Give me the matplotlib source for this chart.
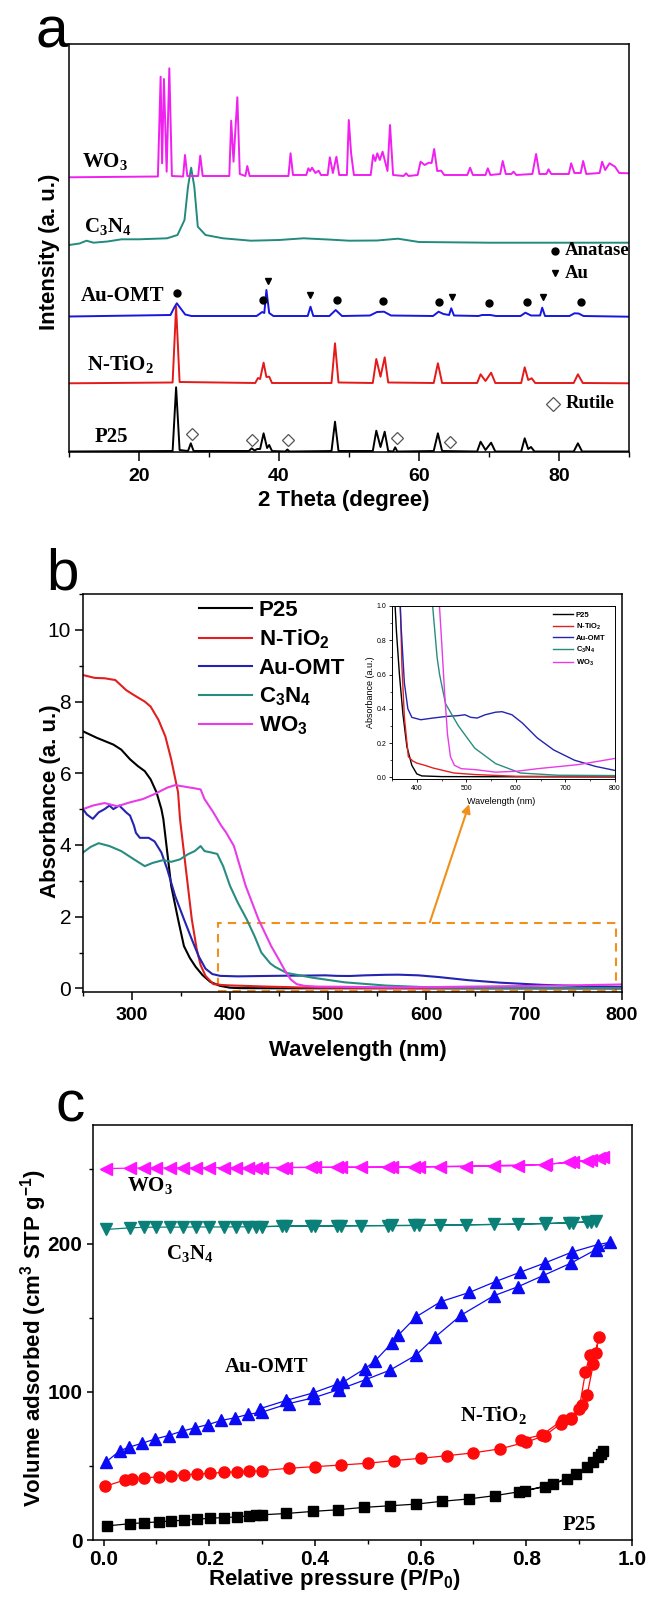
import matplotlib
matplotlib.use("Agg")
import matplotlib.pyplot as plt
from matplotlib.patches import Rectangle
from matplotlib.ticker import MultipleLocator

plt.rcParams['font.family'] = ['Liberation Sans', 'DejaVu Sans']
plt.rcParams['font.weight'] = 'bold'
plt.rcParams['axes.labelweight'] = 'bold'
plt.rcParams['axes.linewidth'] = 1.1

SERIF = 'Liberation Serif'

# ---------------- (a) XRD: (2 theta, stacked intensity) ----------------
p25_xrd = [(10, 1.5), (24.8, 2), (25.3, 65.7), (25.8, 3), (27.0, 2), (27.4, 9.7), (27.8, 2),
           (35.7, 2), (36.1, 4.7), (36.5, 2.5), (36.9, 4), (37.3, 4), (37.8, 19.7), (38.3, 5),
           (38.6, 8), (39.0, 2), (40.9, 1.5), (41.2, 3.5), (41.5, 1.5), (47.5, 2), (48.0, 31.3),
           (48.5, 2), (53.4, 2), (53.9, 22.3), (54.5, 6), (55.1, 21.3), (55.6, 2), (56.3, 1.5),
           (56.6, 5.7), (56.9, 1.5), (62.1, 2), (62.7, 19.7), (63.3, 2), (68.3, 1.5), (68.8, 11.3),
           (69.5, 3), (70.3, 10.3), (70.9, 1.5), (74.6, 1.5), (75.1, 14.7), (75.6, 4), (76.0, 6),
           (76.5, 1.5), (82.1, 1.5), (82.7, 9.7), (83.3, 1.5), (90, 1.5)]
ntio2_xrd = [(10, 69.7), (24.8, 70.5), (25.3, 146.3), (25.8, 71), (36.6, 70), (37.0, 75), (37.3, 74),
             (37.8, 90.3), (38.2, 76), (38.6, 76.3), (39.0, 70), (47.5, 70), (48.0, 109.7), (48.5, 70.5),
             (53.4, 70), (53.9, 94), (54.5, 76.3), (55.1, 95.7), (55.6, 70.5), (62.1, 70), (62.7, 89.7),
             (63.3, 70), (68.3, 70), (68.8, 78.7), (69.5, 72), (70.3, 80.3), (70.9, 70), (74.6, 70),
             (75.1, 85.7), (75.6, 73), (76.1, 74.7), (76.6, 70), (82.1, 70), (82.7, 78.7), (83.4, 70),
             (90, 69.7)]
auomt_xrd = [(10, 136.5), (24.5, 138), (25.0, 145), (25.4, 149.7), (25.9, 145), (26.6, 138.5), (27.5, 137),
             (36.8, 137), (37.6, 141), (37.9, 140), (38.2, 163), (38.6, 140), (39.2, 137), (44.1, 137),
             (44.5, 146.3), (44.9, 137), (47.2, 137), (48.1, 143), (49.0, 137), (53.0, 137.5), (54.0, 141),
             (55.0, 141.3), (56.0, 137.5), (62.0, 137), (62.8, 141.3), (63.5, 139), (64.3, 138), (64.6, 144.7),
             (65.0, 137.5), (68.5, 137), (69.0, 138), (70.2, 138), (71, 137), (74.5, 137), (75.2, 140.3),
             (76, 137.5), (77.3, 137.5), (77.6, 145.3), (78.0, 137), (81.5, 137), (82.2, 139.7), (82.8, 139.5),
             (83.5, 137), (90, 136.3)]
c3n4_xrd = [(10, 208), (11.5, 209.5), (12.5, 212.3), (13.5, 210.3), (15.5, 211.5), (17.5, 213.7), (20, 213.7),
            (24, 214.7), (25.5, 218), (26.5, 233), (27.0, 266.3), (27.45, 285.3), (27.9, 266.3), (28.4, 226.3),
            (29.5, 218), (32, 214.7), (36, 212.3), (40, 213), (43.5, 214.7), (47, 213.5), (50, 212.3),
            (54, 212.5), (57, 214.3), (60, 211), (70, 210.3), (90, 210.3)]
wo3_xrd = [(10, 275.7), (22.7, 276.5), (23.09, 376.3), (23.3, 289.7), (23.56, 374.0), (23.95, 281.3),
           (24.33, 384.7), (24.7, 277), (26.3, 276.5), (26.57, 298), (26.9, 277), (28.45, 277), (28.75, 297.3),
           (29.1, 277), (32.9, 277), (33.17, 332.3), (33.5, 291.3), (34.05, 355.7), (34.4, 279), (35.2, 277),
           (35.47, 287), (35.8, 277), (41.35, 277), (41.65, 299.7), (42.0, 278), (43.9, 278), (44.19, 284.7),
           (44.45, 282), (44.72, 285.3), (45.2, 280), (45.66, 282.3), (46.0, 278), (46.95, 278), (47.26, 295.7),
           (47.7, 280), (48.2, 296.3), (48.6, 278), (49.7, 278), (49.97, 333), (50.3, 299.7), (50.7, 278),
           (53.1, 278), (53.45, 298), (53.75, 292), (54.04, 299.7), (54.4, 293), (54.8, 301.3), (55.5, 282),
           (55.86, 328), (56.3, 278), (57.8, 277), (58.16, 279.7), (58.5, 277), (59.8, 278), (60.22, 291.3),
           (60.8, 288), (61.4, 290.3), (61.8, 290), (62.17, 304), (62.6, 282), (63.17, 282.3), (63.6, 278),
           (66.9, 278), (67.3, 285.3), (67.7, 278), (69.5, 278), (69.83, 284.7), (70.2, 278), (71.6, 279),
           (71.96, 292), (72.4, 279), (73.2, 279), (73.5, 281.3), (73.9, 278), (76.2, 279), (76.73, 299),
           (77.2, 279), (78.2, 279), (78.5, 283.7), (78.9, 279), (81.4, 279), (81.74, 289.7), (82.2, 280),
           (83.1, 280), (83.45, 292), (83.9, 279), (85.8, 280), (86.16, 291.3), (86.6, 283), (87.22, 289.7),
           (88.0, 286.3), (88.6, 280), (90, 279.7)]

anatase_tt = [25.45, 37.65, 48.32, 54.9, 62.9, 69.96, 75.37, 83.1]
anatase_i = [159.7, 153, 153, 152.3, 151.3, 150.3, 151, 151]
au_tt = [38.4, 44.49, 64.77, 77.73]
au_i = [172, 158, 156.3, 155.7]
rutile_tt = [27.6, 36.1, 41.3, 56.9, 64.4]
rutile_i = [19, 13, 13, 15.3, 10.7]

xrd_names = ['P25', 'N-TiO$_\\mathregular{2}$', 'Au-OMT', 'C$_\\mathregular{3}$N$_\\mathregular{4}$', 'WO$_\\mathregular{3}$']
xrd_label_tt = [16.0, 17.3, 17.6, 15.6, 15.2]
xrd_label_i = [16, 88, 157, 226, 291]

# ---------------- (b) UV-vis ----------------
p25_wl = [250, 264, 281, 289, 298, 306, 313, 319, 325, 330, 332, 336, 340, 347, 353, 359, 365, 372, 380, 390,
          400, 410, 450, 600, 800]
p25_abs = [7.17, 6.99, 6.80, 6.66, 6.39, 6.20, 6.06, 5.83, 5.47, 5.00, 4.72, 3.79, 2.86, 1.93, 1.18, 0.85, 0.60,
           0.37, 0.18, 0.07, 0.02, 0.008, 0.004, 0.003, 0.002]
ntio2_wl = [250, 262, 272, 283, 294, 302, 313, 319, 327, 334, 340, 347, 349, 353, 357, 361, 366, 370, 375, 383,
            392, 400, 416, 433, 475, 517, 600, 700, 800]
ntio2_abs = [8.74, 8.66, 8.65, 8.60, 8.32, 8.18, 8.00, 7.86, 7.49, 7.03, 6.39, 5.47, 4.72, 3.79, 2.86, 1.93, 1.10,
             0.65, 0.35, 0.12, 0.095, 0.083, 0.07, 0.054, 0.025, 0.016, 0.006, 0.005, 0.004]
auomt_wl = [250, 254, 260, 266, 272, 277, 281, 287, 294, 298, 302, 304, 308, 317, 323, 330, 336, 344, 353, 361,
            368, 375, 382, 390, 408, 433, 459, 484, 497, 509, 522, 538, 559, 572, 592, 613, 643, 676, 718, 760, 800]
auomt_abs = [5.0, 4.85, 4.73, 4.91, 5.0, 5.1, 5.0, 5.1, 4.91, 4.82, 4.54, 4.34, 4.2, 4.2, 4.1, 3.79, 3.32, 2.58,
             1.93, 1.37, 0.9, 0.55, 0.40, 0.35, 0.336, 0.346, 0.355, 0.36, 0.365, 0.35, 0.346, 0.365, 0.38, 0.383,
             0.365, 0.317, 0.23, 0.16, 0.10, 0.064, 0.04]
c3n4_wl = [250, 258, 266, 277, 289, 302, 313, 321, 332, 340, 349, 357, 364, 370, 374, 381, 387, 393, 400, 408,
           417, 425, 432, 441, 446, 458, 484, 517, 559, 609, 684, 800]
c3n4_abs = [3.79, 3.95, 4.05, 3.97, 3.83, 3.60, 3.41, 3.50, 3.58, 3.53, 3.60, 3.74, 3.83, 3.97, 3.83, 3.79, 3.75,
            3.41, 2.86, 2.39, 1.93, 1.46, 1.0, 0.7, 0.6, 0.43, 0.30, 0.17, 0.08, 0.025, 0.012, 0.01]
wo3_wl = [250, 260, 272, 285, 298, 311, 323, 336, 344, 353, 364, 370, 374, 383, 391, 396, 404, 416, 429, 442,
          450, 456, 462, 468, 476, 490, 517, 559, 601, 643, 726, 800]
wo3_abs = [5.0, 5.1, 5.17, 5.08, 5.19, 5.28, 5.42, 5.6, 5.67, 5.63, 5.58, 5.55, 5.28, 4.91, 4.54, 4.35, 3.97,
           2.86, 1.93, 1.18, 0.8, 0.5, 0.25, 0.12, 0.07, 0.05, 0.045, 0.03, 0.035, 0.05, 0.074, 0.11]

uv_names = ['P25', 'N-TiO$_\\mathregular{2}$', 'Au-OMT', 'C$_\\mathregular{3}$N$_\\mathregular{4}$', 'WO$_\\mathregular{3}$']

# ---------------- (c) N2 isotherms ----------------
p25_ads_p = [0.006, 0.05, 0.077, 0.104, 0.128, 0.152, 0.177, 0.202, 0.227, 0.252, 0.276, 0.288, 0.30, 0.346,
             0.396, 0.443, 0.492, 0.542, 0.591, 0.64, 0.691, 0.74, 0.798, 0.85, 0.894, 0.927, 0.942, 0.946]
p25_ads_v = [9.5, 11.0, 11.7, 12.2, 12.9, 13.3, 14.0, 14.7, 15.1, 15.6, 16.3, 16.8, 17.0, 17.9, 19.3, 20.4,
             22.0, 23.1, 24.2, 26.1, 27.7, 29.9, 33.2, 37.7, 44.5, 52.4, 58.0, 60.3]
p25_des_p = [0.935, 0.915, 0.877, 0.835, 0.786]
p25_des_v = [55.8, 49.0, 41.1, 35.9, 32.6]

ntio2_ads_p = [0.003, 0.04, 0.054, 0.077, 0.104, 0.128, 0.152, 0.177, 0.202, 0.227, 0.252, 0.276, 0.30, 0.35,
               0.40, 0.45, 0.50, 0.55, 0.60, 0.65, 0.70, 0.75, 0.80, 0.835, 0.865, 0.885, 0.905, 0.915, 0.927, 0.937]
ntio2_ads_v = [36.2, 40.5, 41.1, 41.8, 42.7, 43.4, 43.9, 44.5, 45.0, 45.6, 46.0, 46.3, 46.8, 48.4, 49.5, 50.6,
               51.8, 53.6, 55.1, 56.9, 58.8, 61.5, 66.0, 70.5, 78.4, 82.0, 90.8, 97.6, 119.0, 137.0]
ntio2_des_p = [0.932, 0.92, 0.912, 0.9, 0.885, 0.869, 0.83, 0.79]
ntio2_des_v = [126.0, 124.7, 113.4, 88.6, 81.8, 81.0, 71.0, 67.6]

auomt_ads_p = [0.004, 0.031, 0.048, 0.073, 0.098, 0.123, 0.148, 0.173, 0.198, 0.223, 0.248, 0.273, 0.30, 0.35,
               0.398, 0.445, 0.496, 0.542, 0.591, 0.627, 0.677, 0.738, 0.785, 0.831, 0.885, 0.932, 0.959]
auomt_ads_v = [52.4, 60.3, 62.6, 65.3, 68.2, 70.5, 73.4, 75.7, 77.9, 80.7, 82.4, 84.7, 86.3, 92.0, 96.0, 101.5,
               108.2, 114.6, 124.7, 136.8, 151.8, 164.7, 171.0, 178.3, 186.9, 196.0, 200.9]
auomt_des_p = [0.935, 0.886, 0.835, 0.788, 0.742, 0.692, 0.638, 0.592, 0.558, 0.545, 0.514, 0.495, 0.454,
               0.442, 0.396, 0.346, 0.296]
auomt_des_v = [199.3, 194.2, 186.9, 180.6, 174.4, 167.0, 160.8, 150.7, 138.3, 132.7, 120.9, 115.7, 106.6,
               105.1, 99.2, 94.2, 88.6]

c3n4_ads_p = [0.004, 0.05, 0.077, 0.1, 0.125, 0.15, 0.175, 0.2, 0.227, 0.25, 0.274, 0.3, 0.346, 0.4, 0.45,
              0.488, 0.546, 0.596, 0.637, 0.686, 0.738, 0.785, 0.838, 0.888, 0.923, 0.932]
c3n4_ads_v = [209.5, 210.6, 211.0, 211.1, 211.1, 211.1, 211.2, 211.2, 211.2, 211.3, 211.3, 211.4, 211.8, 211.9,
              212.0, 212.1, 212.2, 212.3, 212.5, 212.6, 212.9, 213.1, 213.6, 214.1, 214.6, 215.2]
c3n4_des_p = [0.915, 0.88, 0.835, 0.588, 0.538, 0.442, 0.392, 0.338, 0.288]
c3n4_des_v = [214.7, 214.0, 213.4, 212.2, 212.1, 211.9, 211.8, 211.7, 211.4]

wo3_ads_p = [0.004, 0.05, 0.077, 0.1, 0.125, 0.15, 0.175, 0.2, 0.227, 0.25, 0.274, 0.3, 0.346, 0.4, 0.45,
             0.488, 0.546, 0.596, 0.637, 0.686, 0.738, 0.785, 0.838, 0.888, 0.923, 0.946]
wo3_ads_v = [250.6, 250.9, 251.0, 251.0, 251.1, 251.1, 251.1, 251.2, 251.2, 251.2, 251.3, 251.3, 251.3, 251.4,
             251.5, 251.5, 251.6, 251.7, 251.8, 252.0, 252.2, 252.5, 253.5, 255.1, 256.5, 258.1]
wo3_des_p = [0.938, 0.915, 0.88, 0.835, 0.588, 0.538, 0.442, 0.392, 0.338, 0.288]
wo3_des_v = [257.5, 256.0, 254.8, 253.3, 251.7, 251.6, 251.5, 251.4, 251.3, 251.3]

bet_label_p = [0.90, 0.738, 0.309, 0.163, 0.088]
bet_label_v = [10.2, 84, 116.4, 192.5, 239]

# ---------------- layout helpers ----------------
W, H = 647, 1602
fig = plt.figure(figsize=(W / 100, H / 100), dpi=100)


def box(l, t, r, b):
    return [l / W, 1 - b / H, (r - l) / W, (b - t) / H]


cols_a = ['black', '#E41A1A', '#1616E0', '#228B7D', '#F020F0']

# ================= panel a =================
ax_a = fig.add_axes(box(69, 44, 629, 452))
for pts, col in zip([p25_xrd, ntio2_xrd, auomt_xrd, c3n4_xrd, wo3_xrd], cols_a):
    xs, ys = zip(*pts)
    ax_a.plot(xs, ys, color=col, lw=1.4)

ax_a.plot(anatase_tt, anatase_i, 'o', color='black', ms=5)
ax_a.plot(au_tt, au_i, 'v', color='black', ms=5)
ax_a.plot(rutile_tt, rutile_i, 'D', mfc='none', mec='#555555', mew=0.9, ms=6.5)

# key symbols
ax_a.plot([79.4], [202.3], 'o', color='black', ms=5)
ax_a.plot([79.4], [179.7], 'v', color='black', ms=5)
ax_a.plot([79.1], [49], 'D', mfc='none', mec='#555555', mew=0.9, ms=7)
ax_a.text(80.8, 202.3, 'Anatase', family=SERIF, fontsize=13.5, va='center')
ax_a.text(80.8, 179.7, 'Au', family=SERIF, fontsize=13.5, va='center')
ax_a.text(81.0, 49, 'Rutile', family=SERIF, fontsize=13.5, va='center')

for name, tx, ty in zip(xrd_names, xrd_label_tt, xrd_label_i):
    ax_a.text(tx, ty, name, family=SERIF, fontsize=15, ha='center', va='center')

ax_a.set_xlim(10, 90)
ax_a.set_ylim(1, 409)
ax_a.set_xticks([20, 40, 60, 80], ['20', '40', '60', '80'], fontsize=14, fontweight='bold')
ax_a.xaxis.set_minor_locator(MultipleLocator(10))
ax_a.tick_params(axis='x', which='major', direction='out', length=6.5, width=1.1, pad=5)
ax_a.tick_params(axis='x', which='minor', direction='out', length=3.5, width=1.0)
ax_a.tick_params(axis='y', left=False, labelleft=False)
ax_a.set_xlabel('2 Theta (degree)', fontsize=16, fontweight='bold', va='center')
ax_a.xaxis.set_label_coords(0.49, -0.12)
ax_a.set_ylabel('Intensity (a. u.)', fontsize=16, fontweight='bold', va='center')
ax_a.yaxis.set_label_coords(-0.034, 0.49)

# ================= panel b =================
cols_b = ['black', '#E02020', '#2424B0', '#2A8C80', '#E83CE8']
ax_b = fig.add_axes(box(83, 594, 622, 992))
series_b = [(p25_wl, p25_abs), (ntio2_wl, ntio2_abs), (auomt_wl, auomt_abs),
            (c3n4_wl, c3n4_abs), (wo3_wl, wo3_abs)]
handles = []
for (wl, ab), col in zip(series_b, cols_b):
    h, = ax_b.plot(wl, ab, color=col, lw=1.5)
    handles.append(h)

ax_b.set_xlim(250, 800)
ax_b.set_ylim(-0.1, 11)
ax_b.set_xticks([300, 400, 500, 600, 700, 800], ['300', '400', '500', '600', '700', '800'],
                fontsize=14, fontweight='bold')
ax_b.set_yticks([0, 2, 4, 6, 8, 10], ['0', '2', '4', '6', '8', '10'], fontsize=15, fontweight='normal')
ax_b.xaxis.set_minor_locator(MultipleLocator(50))
ax_b.yaxis.set_minor_locator(MultipleLocator(1))
ax_b.tick_params(which='major', direction='out', length=5.5, width=1.1, pad=5)
ax_b.tick_params(which='minor', direction='out', length=3, width=1.0)
ax_b.tick_params(axis='y', pad=3)
ax_b.set_xlabel('Wavelength (nm)', fontsize=16, fontweight='bold', va='center')
ax_b.xaxis.set_label_coords(0.51, -0.146)
ax_b.set_ylabel('Absorbance (a. u.)', fontsize=16, fontweight='bold', va='center')
ax_b.yaxis.set_label_coords(-0.061, 0.48)
ax_b.legend(handles, uv_names, loc='upper left', bbox_to_anchor=(0.215, 0.985), frameon=False,
            prop={'size': 16, 'weight': 'bold'}, handlelength=2.4, handletextpad=0.3,
            labelspacing=0.3, borderaxespad=0, borderpad=0)

orange = '#F0901A'
ax_b.add_patch(Rectangle((388, -0.08), 406, 1.91, fill=False, ls=(0, (4, 3)), lw=1.5, ec=orange))
ax_b.annotate('', xy=(644, 5.14), xytext=(604, 1.85),
              arrowprops=dict(arrowstyle='-|>', color=orange, lw=1.5, mutation_scale=13,
                              shrinkA=0, shrinkB=0))

# inset
ax_in = fig.add_axes(box(392, 606, 615, 779))
for (wl, ab), col, name in zip(series_b, cols_b, uv_names):
    ax_in.plot(wl, ab, color=col, lw=1.0, label=name)
ax_in.set_xlim(350, 800)
ax_in.set_ylim(-0.01, 1.0)
ax_in.set_xticks([400, 500, 600, 700, 800], ['400', '500', '600', '700', '800'],
                 fontsize=5, fontweight='normal')
ax_in.set_yticks([0.0, 0.2, 0.4, 0.6, 0.8, 1.0], ['0.0', '0.2', '0.4', '0.6', '0.8', '1.0'],
                 fontsize=5, fontweight='normal')
ax_in.xaxis.set_minor_locator(MultipleLocator(50))
ax_in.yaxis.set_minor_locator(MultipleLocator(0.1))
for s in ax_in.spines.values():
    s.set_linewidth(0.7)
ax_in.tick_params(which='major', direction='out', length=2.5, width=0.6, pad=1.5)
ax_in.tick_params(which='minor', direction='out', length=1.5, width=0.5)
ax_in.set_xlabel('Wavelength (nm)', fontsize=6.5, fontweight='normal', va='center')
ax_in.xaxis.set_label_coords(0.49, -0.13)
ax_in.set_ylabel('Absorbance (a.u.)', fontsize=6.5, fontweight='normal', va='center')
ax_in.yaxis.set_label_coords(-0.095, 0.5)
ax_in.legend(loc='upper left', bbox_to_anchor=(0.70, 1.0), frameon=False,
             prop={'size': 5.5, 'weight': 'bold'}, handlelength=2.6, handletextpad=0.3,
             labelspacing=0.35, borderpad=0.2)

# ================= panel c =================
ax_c = fig.add_axes(box(93, 1125, 632, 1540))
series_c = [(p25_ads_p, p25_ads_v, p25_des_p, p25_des_v, 'black', 's', 7),
            (ntio2_ads_p, ntio2_ads_v, ntio2_des_p, ntio2_des_v, '#FF0A0A', 'o', 8),
            (auomt_ads_p, auomt_ads_v, auomt_des_p, auomt_des_v, '#0A0AF5', '^', 9),
            (c3n4_ads_p, c3n4_ads_v, c3n4_des_p, c3n4_des_v, '#0A8078', 'v', 9),
            (wo3_ads_p, wo3_ads_v, wo3_des_p, wo3_des_v, '#FF14FF', '<', 9)]
for ap, av, dp, dv, col, mk, ms in series_c:
    ax_c.plot(ap + dp, av + dv, color=col, lw=0.9, marker=mk, ms=ms, mec=col, mfc=col)

for name, px, pv in zip(xrd_names, bet_label_p, bet_label_v):
    ax_c.text(px, pv, name, family=SERIF, fontsize=15, ha='center', va='center')

ax_c.set_xlim(-0.02, 1.0)
ax_c.set_ylim(0, 280)
ax_c.set_xticks([0.0, 0.2, 0.4, 0.6, 0.8, 1.0], ['0.0', '0.2', '0.4', '0.6', '0.8', '1.0'],
                fontsize=15, fontweight='bold')
ax_c.set_yticks([0, 100, 200], ['0', '100', '200'], fontsize=15, fontweight='bold')
ax_c.xaxis.set_minor_locator(MultipleLocator(0.1))
ax_c.yaxis.set_minor_locator(MultipleLocator(50))
ax_c.tick_params(which='major', direction='out', length=4.5, width=1.1, pad=3)
ax_c.tick_params(which='minor', direction='out', length=3, width=1.0)
ax_c.set_xlabel('Relative pressure (P/P$_\\mathregular{0}$)', fontsize=16, fontweight='bold', va='center')
ax_c.xaxis.set_label_coords(0.447, -0.094)
ax_c.set_ylabel('Volume adsorbed (cm$^\\mathregular{3}$ STP g$^\\mathregular{-1}$)', fontsize=16,
                fontweight='bold', va='center')
ax_c.yaxis.set_label_coords(-0.111, 0.487)

# panel letters
for letter, lx, ly in [('a', 35, 47), ('b', 46, 590), ('c', 55, 1122)]:
    fig.text(lx / W, 1 - ly / H, letter, fontsize=42, fontweight='normal', va='baseline', ha='left')

fig.savefig('out.png', dpi=100)
